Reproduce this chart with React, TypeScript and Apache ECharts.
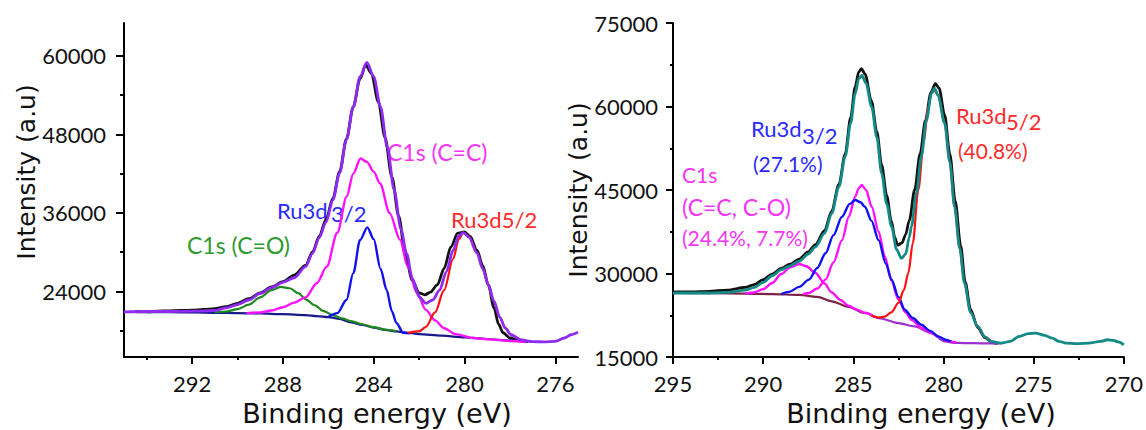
import React, { useEffect, useRef } from "react";
import * as echarts from "echarts";

// ---------- DATA (binding energy eV, intensity a.u.) ----------
const leftXMajor = [292, 288, 284, 280, 276];
const leftXMinor = [294, 290, 286, 282, 278];
const leftYMajor = [24000, 36000, 48000, 60000];
const leftYMinor = [18000, 30000, 42000, 54000];

const leftData = [
  [294.5, 20950], [294.0, 20900], [293.5, 21000], [293.0, 21050], [292.5, 21100], [292.0, 21150],
  [291.5, 21250], [291.0, 21400], [290.5, 21700], [290.0, 22200], [289.5, 22900], [289.0, 23800],
  [288.5, 24700], [288.0, 25500], [287.5, 26500], [287.0, 28000], [286.7, 30000], [286.4, 32400],
  [286.1, 35000], [285.8, 38200], [285.5, 42300], [285.2, 47300], [284.9, 52200], [284.6, 56500],
  [284.35, 58600], [284.1, 57300], [283.8, 53000], [283.5, 47500], [283.2, 41500], [282.9, 35500],
  [282.6, 29500], [282.3, 25700], [282.0, 23800], [281.75, 23500], [281.5, 23900], [281.2, 25000],
  [280.9, 27500], [280.6, 30800], [280.3, 32900], [280.0, 33100], [279.75, 32400], [279.45, 30300],
  [279.2, 28000], [278.95, 25000], [278.7, 21500], [278.5, 19000], [278.3, 17700], [278.0, 16900],
  [277.6, 16500], [277.2, 16350],
];
const leftEnvelope = [
  [295.0, 20900], [294.0, 20950], [293.0, 20950], [292.0, 21000], [291.0, 21100], [290.5, 21500],
  [290.0, 22000], [289.5, 22700], [289.0, 23700], [288.5, 24600], [288.0, 25400], [287.5, 26100],
  [287.0, 27800], [286.7, 29800], [286.4, 32200], [286.1, 34600], [285.8, 38000], [285.5, 42100],
  [285.2, 47200], [284.9, 52200], [284.6, 56800], [284.3, 59000], [284.0, 56800], [283.7, 52200],
  [283.4, 46000], [283.1, 39500], [282.8, 33500], [282.55, 29800], [282.3, 26000], [282.0, 23200],
  [281.7, 22200], [281.4, 22700], [281.1, 24200], [280.8, 27000], [280.5, 30300], [280.25, 32500],
  [280.05, 33000], [279.8, 32300], [279.45, 29900], [279.2, 27500], [278.95, 25000], [278.7, 22500],
  [278.45, 20100], [278.2, 18400], [277.95, 17400], [277.5, 16600], [277.0, 16350], [276.5, 16300],
  [276.0, 16400], [275.6, 16900], [275.3, 17400], [275.0, 17800],
];
const leftBackground = [
  [294.0, 20850], [293.0, 20850], [292.0, 20800], [291.0, 20750], [290.0, 20700], [289.0, 20650],
  [288.0, 20550], [287.0, 20400], [286.5, 20250], [286.0, 20100], [285.5, 19800], [285.0, 19300],
  [284.5, 18900], [284.0, 18500], [283.5, 18150], [283.0, 17900], [282.5, 17700], [282.0, 17500],
  [281.0, 17250], [280.0, 17000], [279.0, 16750], [278.0, 16500], [277.2, 16350],
];
const leftC1sCO = [
  [291.0, 20800], [290.5, 20950], [290.0, 21300], [289.5, 22000], [289.0, 23100], [288.5, 24200],
  [288.1, 24700], [287.7, 24500], [287.3, 23700], [287.0, 22800], [286.6, 21900], [286.2, 21000],
  [285.8, 20400], [285.4, 19900], [285.0, 19500], [284.5, 19000], [284.0, 18550], [283.5, 18200],
  [283.0, 17950],
];
const leftC1sCC = [
  [289.6, 20700], [289.0, 20800], [288.5, 21100], [288.0, 21600], [287.5, 22300], [287.0, 23100],
  [286.5, 25300], [286.07, 27800], [285.6, 33000], [285.19, 38500], [284.9, 42000], [284.58, 44300],
  [284.3, 43800], [284.0, 42300], [283.72, 40500], [283.3, 36000], [282.84, 31900], [282.5, 27800],
  [282.1, 23800], [281.7, 21200], [281.3, 19600], [280.9, 18400], [280.4, 17500], [279.6, 16900],
  [279.0, 16700], [278.0, 16450], [277.3, 16300],
];
const leftRu32 = [
  [286.0, 20100], [285.6, 20700], [285.2, 22700], [284.9, 26800], [284.6, 31870], [284.28, 33800],
  [284.0, 32000], [283.7, 27500], [283.43, 24230], [283.2, 21000], [283.0, 19200], [282.7, 17700],
  [282.4, 17600],
];
const leftRu52 = [
  [282.5, 17700], [282.0, 17900], [281.7, 18600], [281.3, 20800], [280.9, 24200], [280.5, 29000],
  [280.25, 32000], [280.05, 33000], [279.8, 32300], [279.45, 29900], [279.2, 27500], [278.95, 25000],
  [278.7, 22500], [278.45, 20100], [278.2, 18400], [277.95, 17400], [277.5, 16600], [277.2, 16400],
];

const rightData = [
  [295.0, 26700], [294.0, 26700], [293.0, 26800], [292.0, 27000], [291.0, 27500], [290.5, 28000],
  [290.0, 28900], [289.5, 29900], [289.0, 30900], [288.5, 31700], [288.0, 32600], [287.5, 33900],
  [287.1, 35200], [286.6, 37700], [286.2, 41200], [285.8, 46000], [285.45, 51500], [285.15, 58000],
  [284.9, 63500], [284.7, 66200], [284.55, 66800], [284.35, 65800], [284.0, 61000], [283.7, 55500],
  [283.43, 49500], [283.15, 44000], [282.9, 39500], [282.7, 36500], [282.55, 35100], [282.3, 35500],
  [282.1, 37000], [281.9, 39500], [281.6, 45000], [281.3, 51500], [281.0, 57500], [280.7, 62500],
  [280.45, 64100], [280.25, 63300], [279.94, 58500], [279.65, 51500], [279.35, 43000], [279.05, 35000],
  [278.8, 28500], [278.5, 23500], [278.1, 20300], [277.7, 18500], [277.3, 17600], [277.0, 17400],
];
const rightEnvelope = [
  [295.0, 26500], [294.0, 26500], [293.0, 26500], [292.0, 26600], [291.0, 27000], [290.5, 27500],
  [290.0, 28400], [289.5, 29600], [289.0, 30700], [288.56, 31300], [288.0, 32200], [287.5, 33500],
  [287.1, 34800], [286.6, 37200], [286.2, 40800], [285.8, 45600], [285.45, 51000], [285.15, 57000],
  [284.9, 62300], [284.7, 65000], [284.53, 65600], [284.3, 64200], [283.98, 59900], [283.7, 54500],
  [283.43, 48000], [283.15, 42500], [282.88, 38400], [282.6, 34300], [282.33, 32700], [282.1, 33500],
  [281.9, 36500], [281.78, 38400], [281.5, 44500], [281.23, 51000], [280.95, 57500], [280.67, 62300],
  [280.5, 63300], [280.3, 62000], [279.94, 57000], [279.65, 50000], [279.39, 42000], [279.1, 34500],
  [278.84, 28300], [278.5, 23000], [278.1, 20500], [277.7, 18600], [277.36, 17800], [276.8, 17500],
  [276.3, 17800], [275.8, 18700], [275.3, 19200], [274.9, 19300], [274.4, 18900], [273.97, 18400],
  [273.6, 17800], [273.2, 17500], [272.6, 17400], [271.95, 17500], [271.3, 17800], [270.9, 18100],
  [270.6, 18000], [270.3, 17700], [270.0, 17200],
];
const rightBackground = [
  [295.0, 26500], [293.0, 26450], [291.0, 26400], [289.5, 26300], [288.0, 26150], [287.0, 25800],
  [286.2, 25000], [285.27, 24000], [284.36, 22900], [283.6, 22000], [282.5, 21100], [281.6, 20500],
  [280.67, 19300], [279.94, 17800], [279.4, 17550], [278.84, 17500], [277.8, 17450], [276.8, 17450],
];
const rightRu32 = [
  [289.0, 26300], [288.56, 26700], [288.0, 27600], [287.46, 28900], [287.0, 31000], [286.54, 33650],
  [286.1, 36900], [285.63, 40200], [285.2, 42500], [284.9, 43200], [284.6, 42800], [284.36, 42000],
  [284.0, 39500], [283.6, 36000], [283.2, 31800], [282.88, 28900], [282.5, 25800], [282.15, 23500],
  [281.7, 22000], [281.23, 20800], [280.75, 19700], [280.3, 18700], [279.9, 18100], [279.58, 17800],
];
const rightC1sCC = [
  [287.8, 26300], [287.46, 26500], [287.0, 27300], [286.54, 28900], [286.1, 32000], [285.63, 36000],
  [285.25, 40200], [284.9, 43800], [284.7, 45300], [284.53, 45900], [284.3, 45000], [283.98, 42000],
  [283.6, 37500], [283.25, 33000], [282.9, 28800], [282.5, 25300], [282.1, 23000], [281.78, 21700],
  [281.2, 20200], [280.67, 19300], [280.2, 18500], [279.8, 17900], [279.3, 17600],
];
const rightC1sCO = [
  [291.0, 26400], [290.5, 26600], [290.0, 27200], [289.5, 28300], [289.0, 29900], [288.5, 31100],
  [288.0, 31700], [287.6, 31300], [287.1, 30100], [286.6, 28200], [286.2, 26600], [285.7, 25200],
  [285.27, 24200], [284.8, 23500], [284.36, 22950], [283.8, 22200],
];
const rightRu52 = [
  [284.0, 22450], [283.6, 22100], [283.25, 22250], [282.9, 23000], [282.5, 24700], [282.2, 27000],
  [281.95, 30100], [281.7, 35500], [281.4, 45000], [281.1, 53500], [280.85, 59900], [280.65, 62500],
  [280.5, 62900], [280.3, 62000], [279.94, 57000], [279.65, 50000], [279.39, 42000], [279.1, 34500],
  [278.84, 28300], [278.5, 23000], [278.1, 20500], [277.7, 18600], [277.36, 17800],
];

const xTitle = "Binding energy (eV)";
const yTitle = "Intensity (a.u)";

// ---------- STYLE ----------
const FONT = 'Lato, "Noto Sans", sans-serif';
const TITLE_FONT = '"DejaVu Sans", sans-serif';
const AX = { color: "#000", width: 2 };

function line(data: number[][], color: any, width: number, xi: number, yi: number, z = 2) {
  return {
    type: "line",
    data,
    xAxisIndex: xi,
    yAxisIndex: yi,
    showSymbol: false,
    symbol: "none",
    smooth: 0.3,
    smoothMonotone: "x",
    z,
    lineStyle: { color, width },
    silent: true,
  };
}

function txt(text: string, x: number, y: number, fill: string, size = 21) {
  return {
    type: "text",
    x,
    y,
    silent: true,
    style: { text, fill, fontSize: size, fontFamily: FONT, textAlign: "left", textVerticalAlign: "middle" },
  };
}

function title(text: string, x: number, y: number, size: number, rotation = 0) {
  return {
    type: "text",
    x,
    y,
    rotation,
    silent: true,
    style: { text, fill: "#111", fontSize: size, fontFamily: TITLE_FONT, textAlign: "center", textVerticalAlign: "middle" },
  };
}

export default function App() {
  const ref = useRef<HTMLDivElement>(null);
  useEffect(() => {
    if (!ref.current) return;
    const chart = echarts.init(ref.current, undefined, { renderer: "svg" });
    const bgGrad = new echarts.graphic.LinearGradient(0, 0, 1, 0, [
      { offset: 0, color: "#7d2247" },
      { offset: 0.58, color: "#7d2247" },
      { offset: 0.62, color: "#9a30d0" },
      { offset: 1, color: "#9a30d0" },
    ]);
    const fmt = (v: number) => String(v);
    const label = { fontSize: 22, fontFamily: FONT, color: "#111", formatter: fmt };
    const option: any = {
      animation: false,
      backgroundColor: "#fff",
      grid: [
        { left: 124, top: 23, width: 454, height: 334 },
        { left: 673, top: 23, width: 454, height: 334 },
      ],
      xAxis: [
        {
          gridIndex: 0, type: "value", min: 275, max: 295, inverse: true, position: "bottom",
          axisLine: { onZero: false, lineStyle: AX },
          axisTick: { customValues: leftXMajor, length: 7, lineStyle: AX },
          axisLabel: { ...label, customValues: leftXMajor, margin: 15 },
          splitLine: { show: false },
        },
        {
          gridIndex: 0, type: "value", min: 275, max: 295, inverse: true, position: "bottom",
          axisLine: { show: false, onZero: false },
          axisTick: { customValues: leftXMinor, length: 3, lineStyle: AX },
          axisLabel: { show: false },
          splitLine: { show: false },
        },
        {
          gridIndex: 1, type: "value", min: 270, max: 295, interval: 5, inverse: true, position: "bottom",
          axisLine: { onZero: false, lineStyle: AX },
          axisTick: { length: 7, lineStyle: AX },
          minorTick: { show: true, splitNumber: 2, length: 3, lineStyle: AX },
          axisLabel: { ...label, margin: 15 },
          splitLine: { show: false },
        },
      ],
      yAxis: [
        {
          gridIndex: 0, type: "value", min: 14000, max: 65000, position: "left",
          axisLine: { show: true, onZero: false, lineStyle: AX },
          axisTick: { show: true, customValues: leftYMajor, length: 8, lineStyle: AX },
          axisLabel: { ...label, customValues: leftYMajor, margin: 18 },
          splitLine: { show: false },
        },
        {
          gridIndex: 0, type: "value", min: 14000, max: 65000, position: "left",
          axisLine: { show: false, onZero: false },
          axisTick: { show: true, customValues: leftYMinor, length: 4, lineStyle: AX },
          axisLabel: { show: false },
          splitLine: { show: false },
        },
        {
          gridIndex: 1, type: "value", min: 15000, max: 75000, interval: 15000, position: "left",
          axisLine: { show: true, onZero: false, lineStyle: AX },
          axisTick: { show: true, length: 7, lineStyle: AX },
          minorTick: { show: true, splitNumber: 2, length: 3, lineStyle: AX },
          axisLabel: { ...label, margin: 15 },
          splitLine: { show: false },
        },
      ],
      series: [
        line(leftData, "#111111", 2.8, 0, 0, 2),
        line(leftBackground, "#1a1a8c", 2.2, 0, 0, 3),
        line(leftC1sCO, "#1e8a1e", 2.2, 0, 0, 4),
        line(leftC1sCC, "#ff10ff", 2.4, 0, 0, 4),
        line(leftRu32, "#1010f0", 2.4, 0, 0, 4),
        line(leftRu52, "#ff1010", 2.2, 0, 0, 4),
        line(leftEnvelope, "#8f2bf0", 2.8, 0, 0, 5),
        line(rightData, "#111111", 2.8, 2, 2, 2),
        line(rightBackground, bgGrad, 2.2, 2, 2, 3),
        line(rightC1sCO, "#ff10ff", 2.4, 2, 2, 4),
        line(rightC1sCC, "#ff10ff", 2.4, 2, 2, 4),
        line(rightRu32, "#1010f0", 2.4, 2, 2, 4),
        line(rightRu52, "#ff1010", 2.2, 2, 2, 4),
        line(rightEnvelope, "#138a86", 2.8, 2, 2, 5),
      ],
      graphic: [
        title(xTitle, 377, 413, 27),
        title(xTitle, 921, 413, 27),
        title(yTitle, 26, 172, 25, Math.PI / 2),
        title(yTitle, 578, 190, 25, Math.PI / 2),
        txt("C1s (C=C)", 387, 152, "#f535f5", 23),
        txt("Ru3d", 277, 210, "#2a2aff", 22),
        txt("3/2", 331, 213, "#2a2aff", 22),
        txt("Ru3d5/2", 451, 219, "#ff2a2a", 22),
        txt("C1s (C=O)", 187, 245, "#2f9a2f", 23),
        txt("Ru3d", 751, 128, "#2a2aff", 22),
        txt("3/2", 802, 135, "#2a2aff", 22),
        txt("(27.1%)", 753, 163, "#2a2aff", 21),
        txt("Ru3d", 956, 115, "#ff2a2a", 22),
        txt("5/2", 1006, 121, "#ff2a2a", 22),
        txt("(40.8%)", 958, 150, "#ff2a2a", 21),
        txt("C1s", 682, 174, "#f535f5", 21),
        txt("(C=C, C-O)", 682, 207, "#f535f5", 23),
        txt("(24.4%, 7.7%)", 682, 237, "#f535f5", 21),
      ],
    };
    chart.setOption(option);
    return () => chart.dispose();
  }, []);
  return (
    <div
      ref={ref}
      style={{ position: "fixed", left: 0, top: 0, width: 1146, height: 430, background: "#fff" }}
    />
  );
}
